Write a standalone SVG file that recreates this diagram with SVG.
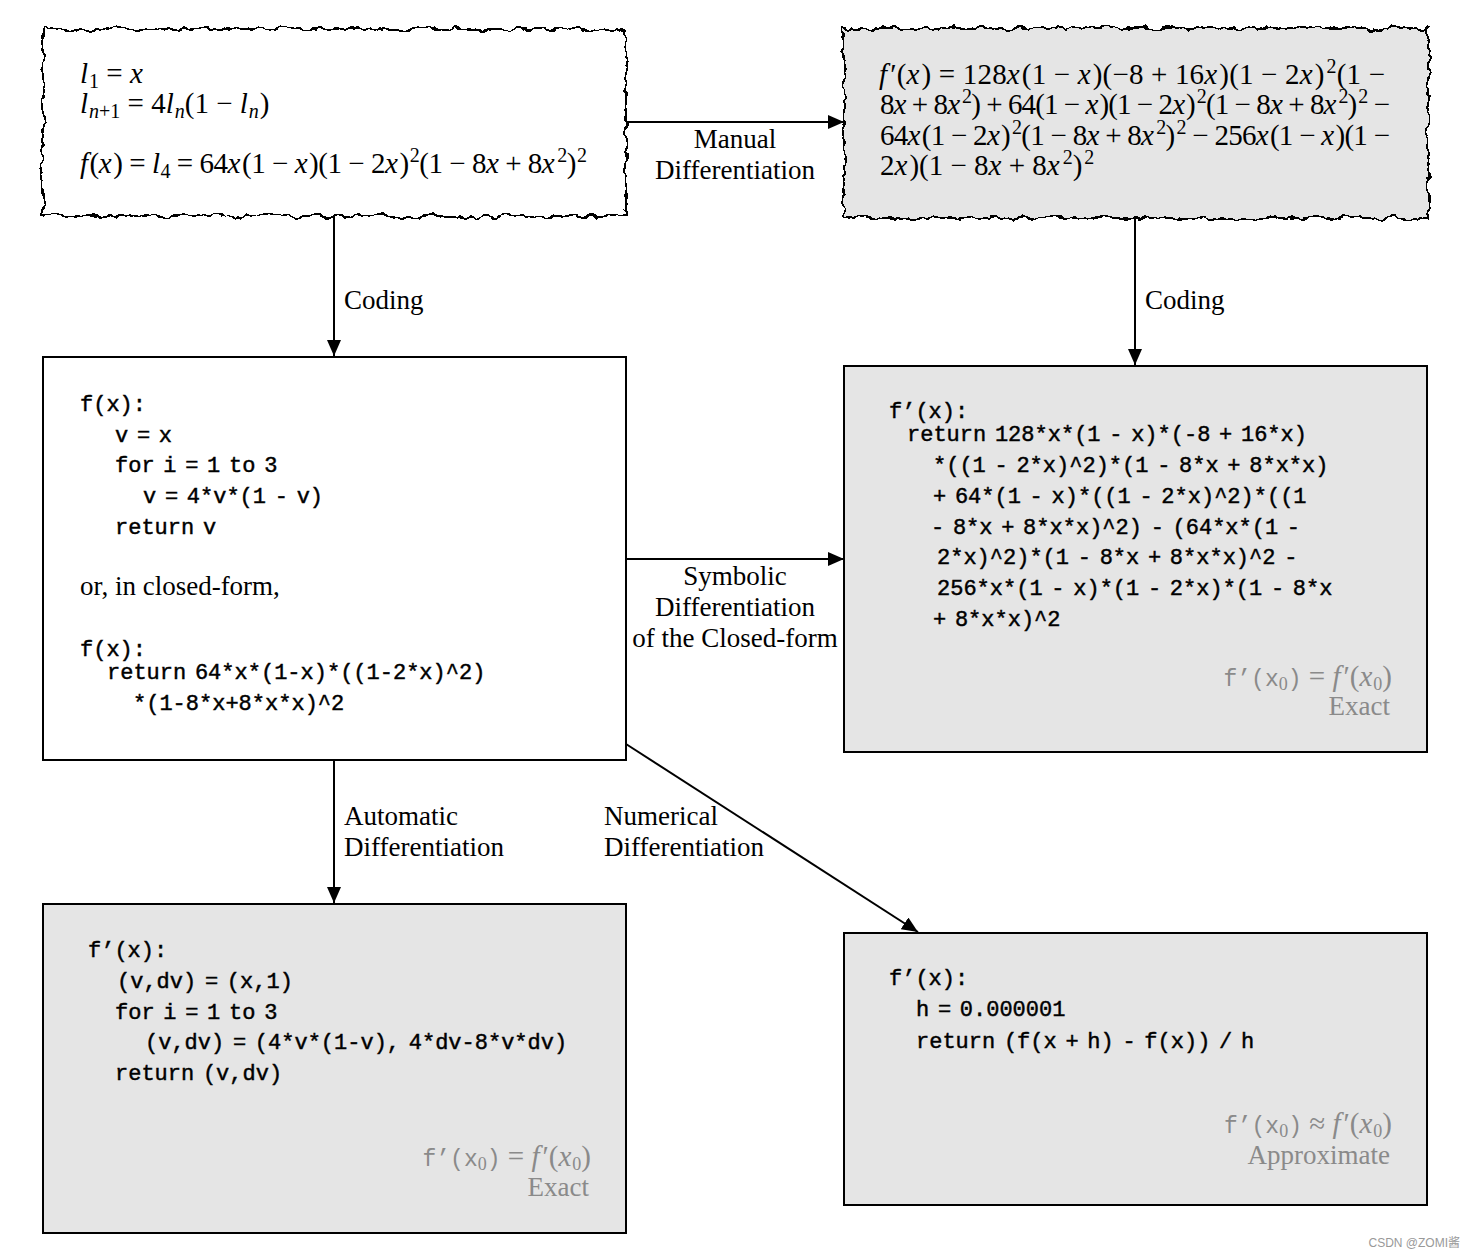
<svg xmlns="http://www.w3.org/2000/svg" width="1474" height="1258" viewBox="0 0 1474 1258">
<style>
.s{font-family:"Liberation Serif","DejaVu Serif",serif;font-size:27px;fill:#000}
.m{font-family:"Liberation Serif","DejaVu Serif",serif;font-size:29px;fill:#000}
.i{font-style:italic}
.c{font-family:"Liberation Mono","DejaVu Sans Mono",monospace;font-size:22px;fill:#000;stroke:#000;stroke-width:0.45;word-spacing:-4.5px}
.gc{font-family:"Liberation Mono","DejaVu Sans Mono",monospace;font-size:23px}
.g{fill:#8a8a8a}
.box{stroke:#000;stroke-width:2}
.w{fill:#fff}
.gr{fill:#e5e5e5}
.ln{stroke:#000;stroke-width:2;fill:none;marker-end:url(#ah)}
</style>
<defs>
<marker id="ah" viewBox="0 0 16 14" refX="16" refY="7" markerWidth="16" markerHeight="14" markerUnits="userSpaceOnUse" orient="auto">
<path d="M0,0 L16,7 L0,14 Z" fill="#000"/>
</marker>
<filter id="rough" x="-5%" y="-10%" width="110%" height="120%">
<feTurbulence type="fractalNoise" baseFrequency="0.08" numOctaves="3" seed="7" result="n"/>
<feDisplacementMap in="SourceGraphic" in2="n" scale="10" xChannelSelector="R" yChannelSelector="G"/>
</filter>
</defs>
<rect width="1474" height="1258" fill="#fff"/>

<g id="connectors">
<line class="ln" x1="626" y1="122" x2="844" y2="122"/>
<line class="ln" x1="334" y1="216" x2="334" y2="356"/>
<line class="ln" x1="1135" y1="218" x2="1135" y2="365"/>
<line class="ln" x1="626" y1="559" x2="844" y2="559"/>
<line class="ln" x1="334" y1="760" x2="334" y2="903"/>
<line class="ln" x1="626" y1="744" x2="918" y2="932"/>
<text class="s" x="735" y="148" text-anchor="middle">Manual</text>
<text class="s" x="735" y="179" text-anchor="middle">Differentiation</text>
<text class="s" x="344" y="309">Coding</text>
<text class="s" x="1145" y="309">Coding</text>
<text class="s" x="735" y="585" text-anchor="middle">Symbolic</text>
<text class="s" x="735" y="616" text-anchor="middle">Differentiation</text>
<text class="s" x="735" y="647" text-anchor="middle">of the Closed-form</text>
<text class="s" x="344" y="825">Automatic</text>
<text class="s" x="344" y="856">Differentiation</text>
<text class="s" x="604" y="825">Numerical</text>
<text class="s" x="604" y="856">Differentiation</text>
</g>

<g id="node-function">
<rect class="box w" x="43" y="29" width="583" height="187" filter="url(#rough)"/>
<text class="m" x="80" y="83"><tspan class="i">l</tspan><tspan font-size="20" dx="1" dy="5">1</tspan><tspan dy="-5"> = </tspan><tspan class="i">x</tspan></text>
<text class="m" x="80" y="113"><tspan class="i">l</tspan><tspan font-size="20" dx="1" dy="5"><tspan class="i">n</tspan>+1</tspan><tspan dy="-5"> = 4</tspan><tspan class="i">l</tspan><tspan font-size="20" dx="1" dy="5" class="i">n</tspan><tspan dy="-5">(1 − </tspan><tspan class="i">l</tspan><tspan font-size="20" dx="1" dy="5" class="i">n</tspan><tspan dx="1" dy="-5">)</tspan></text>
<text class="m" x="80" y="173" textLength="507"><tspan class="i">f</tspan><tspan dx="2">(</tspan><tspan class="i">x</tspan><tspan dx="2">) = </tspan><tspan class="i">l</tspan><tspan font-size="20" dx="1" dy="5">4</tspan><tspan dy="-5"> = 64</tspan><tspan class="i">x</tspan><tspan dx="2">(1 − </tspan><tspan class="i">x</tspan><tspan dx="2">)(1 − 2</tspan><tspan class="i">x</tspan><tspan dx="2">)</tspan><tspan font-size="20" dx="1" dy="-11">2</tspan><tspan dy="11">(1 − 8</tspan><tspan class="i">x</tspan> + 8<tspan class="i">x</tspan><tspan font-size="20" dx="3" dy="-11">2</tspan><tspan dy="11">)</tspan><tspan font-size="20" dx="1" dy="-11">2</tspan></text>
</g>

<g id="node-manual">
<rect class="box gr" x="844" y="28" width="584" height="190" filter="url(#rough)"/>
<text class="m" x="879" y="84" textLength="506"><tspan class="i">f</tspan><tspan dx="3">′(</tspan><tspan class="i">x</tspan><tspan dx="2">) = 128</tspan><tspan class="i">x</tspan><tspan dx="2">(1 − </tspan><tspan class="i">x</tspan><tspan dx="2">)(−8 + 16</tspan><tspan class="i">x</tspan><tspan dx="2">)(1 − 2</tspan><tspan class="i">x</tspan><tspan dx="2">)</tspan><tspan font-size="20" dx="2" dy="-11">2</tspan><tspan dy="11">(1 −</tspan></text>
<text class="m" x="880" y="114" textLength="510">8<tspan class="i">x</tspan> + 8<tspan class="i">x</tspan><tspan font-size="20" dx="3" dy="-11">2</tspan><tspan dy="11">) + 64(1 − </tspan><tspan class="i">x</tspan><tspan dx="2">)(1 − 2</tspan><tspan class="i">x</tspan><tspan dx="2">)</tspan><tspan font-size="20" dx="2" dy="-11">2</tspan><tspan dy="11">(1 − 8</tspan><tspan class="i">x</tspan> + 8<tspan class="i">x</tspan><tspan font-size="20" dx="3" dy="-11">2</tspan><tspan dy="11">)</tspan><tspan font-size="20" dx="2" dy="-11">2</tspan><tspan dy="11"> −</tspan></text>
<text class="m" x="880" y="145" textLength="510">64<tspan class="i">x</tspan><tspan dx="2">(1 − 2</tspan><tspan class="i">x</tspan><tspan dx="2">)</tspan><tspan font-size="20" dx="2" dy="-11">2</tspan><tspan dy="11">(1 − 8</tspan><tspan class="i">x</tspan> + 8<tspan class="i">x</tspan><tspan font-size="20" dx="3" dy="-11">2</tspan><tspan dy="11">)</tspan><tspan font-size="20" dx="2" dy="-11">2</tspan><tspan dy="11"> − 256</tspan><tspan class="i">x</tspan><tspan dx="2">(1 − </tspan><tspan class="i">x</tspan><tspan dx="2">)(1 −</tspan></text>
<text class="m" x="880" y="175">2<tspan class="i">x</tspan><tspan dx="2">)(1 − 8</tspan><tspan class="i">x</tspan> + 8<tspan class="i">x</tspan><tspan font-size="20" dx="3" dy="-11">2</tspan><tspan dy="11">)</tspan><tspan font-size="20" dx="2" dy="-11">2</tspan></text>
</g>

<g id="node-code">
<rect class="box w" x="43" y="357" width="583" height="403"/>
<text class="c" x="80" y="411">f(x):</text>
<text class="c" x="115" y="442">v = x</text>
<text class="c" x="115" y="472">for i = 1 to 3</text>
<text class="c" x="143" y="503">v = 4*v*(1 - v)</text>
<text class="c" x="115" y="534">return v</text>
<text class="s" x="80" y="595">or, in closed-form,</text>
<text class="c" x="80" y="656">f(x):</text>
<text class="c" x="107" y="679">return 64*x*(1-x)*((1-2*x)^2)</text>
<text class="c" x="133" y="710">*(1-8*x+8*x*x)^2</text>
</g>

<g id="node-symbolic">
<rect class="box gr" x="844" y="366" width="583" height="386"/>
<text class="c" x="889" y="418">f’(x):</text>
<text class="c" x="907" y="441">return 128*x*(1 - x)*(-8 + 16*x)</text>
<text class="c" x="933" y="472">*((1 - 2*x)^2)*(1 - 8*x + 8*x*x)</text>
<text class="c" x="933" y="503">+ 64*(1 - x)*((1 - 2*x)^2)*((1</text>
<text class="c" x="931" y="534">- 8*x + 8*x*x)^2) - (64*x*(1 -</text>
<text class="c" x="937" y="564">2*x)^2)*(1 - 8*x + 8*x*x)^2 -</text>
<text class="c" x="937" y="595">256*x*(1 - x)*(1 - 2*x)*(1 - 8*x</text>
<text class="c" x="933" y="626">+ 8*x*x)^2</text>
<text class="m g" x="1392" y="686" text-anchor="end"><tspan class="gc">f’(x</tspan><tspan font-size="18" dy="4">0</tspan><tspan class="gc" dy="-4">)</tspan>  =  <tspan class="i">f</tspan><tspan dx="3">′(</tspan><tspan class="i">x</tspan><tspan font-size="18" dx="1" dy="4">0</tspan><tspan dy="-4">)</tspan></text>
<text class="s g" x="1390" y="715" text-anchor="end">Exact</text>
</g>

<g id="node-automatic">
<rect class="box gr" x="43" y="904" width="583" height="329"/>
<text class="c" x="88" y="957">f’(x):</text>
<text class="c" x="117" y="988">(v,dv) = (x,1)</text>
<text class="c" x="115" y="1019">for i = 1 to 3</text>
<text class="c" x="145" y="1049">(v,dv) = (4*v*(1-v), 4*dv-8*v*dv)</text>
<text class="c" x="115" y="1080">return (v,dv)</text>
<text class="m g" x="591" y="1166" text-anchor="end"><tspan class="gc">f’(x</tspan><tspan font-size="18" dy="4">0</tspan><tspan class="gc" dy="-4">)</tspan>  =  <tspan class="i">f</tspan><tspan dx="3">′(</tspan><tspan class="i">x</tspan><tspan font-size="18" dx="1" dy="4">0</tspan><tspan dy="-4">)</tspan></text>
<text class="s g" x="589" y="1196" text-anchor="end">Exact</text>
</g>

<g id="node-numerical">
<rect class="box gr" x="844" y="933" width="583" height="272"/>
<text class="c" x="889" y="985">f’(x):</text>
<text class="c" x="916" y="1016">h = 0.000001</text>
<text class="c" x="916" y="1048">return (f(x + h) - f(x)) / h</text>
<text class="m g" x="1392" y="1133" text-anchor="end"><tspan class="gc">f’(x</tspan><tspan font-size="18" dy="4">0</tspan><tspan class="gc" dy="-4">)</tspan>  ≈  <tspan class="i">f</tspan><tspan dx="3">′(</tspan><tspan class="i">x</tspan><tspan font-size="18" dx="1" dy="4">0</tspan><tspan dy="-4">)</tspan></text>
<text class="s g" x="1390" y="1164" text-anchor="end">Approximate</text>
</g>

<text x="1460" y="1247" text-anchor="end" font-family="'Liberation Sans','Noto Sans CJK SC',sans-serif" font-size="12" fill="#999">CSDN @ZOMI酱</text>
</svg>
